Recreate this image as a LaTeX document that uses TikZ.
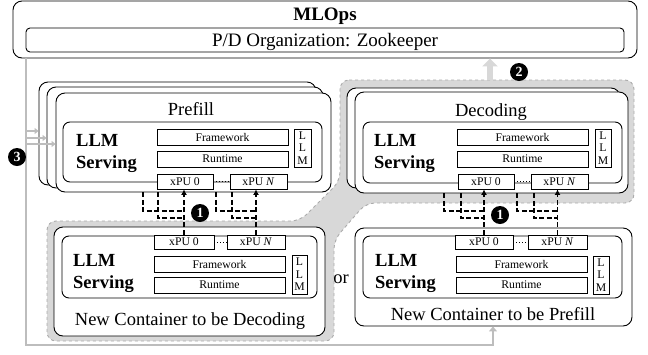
\documentclass[tikz,border=0pt]{standalone}
\usepackage{fontspec}
\setmainfont{Liberation Serif}
\usetikzlibrary{arrows.meta,calc}

\definecolor{hl}{HTML}{D8D8D8}
\definecolor{hlborder}{HTML}{ABABAB}
\definecolor{wire}{HTML}{BDBDBD}

% box node spanning (x1,y1)-(x2,y2): style, x1, y1, x2, y2, name, text
\newcommand\blk[7]{%
  \pgfmathsetmacro\blkw{#4-#2}%
  \pgfmathsetmacro\blkh{#5-#3}%
  \pgfmathsetmacro\blkx{(#2+#4)/2}%
  \pgfmathsetmacro\blky{(#3+#5)/2}%
  \node[#1, minimum width=\blkw pt, minimum height=\blkh pt] (#6) at (\blkx,\blky) {#7};}

\tikzset{
  card/.style={draw, fill=white, rounded corners=9pt, line width=0.9pt, inner sep=0pt},
  panel/.style={draw, fill=white, rounded corners=7pt, line width=0.9pt, inner sep=0pt},
  frame/.style={draw, fill=white, rounded corners=4pt, line width=0.9pt, inner sep=0pt},
  layer/.style={draw, fill=white, line width=0.8pt, inner sep=0pt,
    font=\fontsize{11.7}{12}\selectfont},
  stacked/.style={layer, align=center, font=\fontsize{11.7}{12.5}\selectfont},
  biglabel/.style={font=\fontsize{18.5}{21}\selectfont, inner sep=0pt, anchor=base},
  serving/.style={font=\fontsize{18.5}{22}\selectfont\bfseries, align=left,
    anchor=west, inner sep=0pt},
  badge/.style={circle, fill=black, text=white, inner sep=0pt, minimum size=18pt,
    font=\fontsize{14}{14}\selectfont\bfseries},
  kvline/.style={draw, dash pattern=on 5pt off 2.5pt, line width=1.8pt},
  kvarrow/.style={kvline, -{Latex[length=5.5pt,width=6pt]}},
  wireline/.style={draw=wire, line width=2.6pt},
  wirearrow/.style={wireline, -{Triangle[length=5pt,width=8pt]}},
  branch/.style={draw=wire, line width=1.6pt, -{Triangle[length=4pt,width=6pt]}},
  ellipsis/.style={draw, line width=0.8pt, dash pattern=on 0.8pt off 2.2pt},
}

\begin{document}
\begin{tikzpicture}[x=1pt, y=-1pt]
\useasboundingbox (0,0) rectangle (648,354);

% ---- highlighted region: decoding group and the container joining it
\draw[fill=hl, draw=hlborder, dashed, line width=0.9pt, rounded corners=9pt]
  (340,80) -- (634,80) -- (634,203) -- (366,203) -- (334,240) -- (334,341)
  -- (47,341) -- (47,221) -- (300,221) -- (340,181) -- cycle;

% ---- MLOps control plane
\blk{card}{13}{1}{637}{58}{mlops}{}
\node[font=\fontsize{19}{21}\selectfont\bfseries, inner sep=0pt, anchor=base] (mltitle) at (325,20) {MLOps};
\blk{frame}{26}{28}{624}{52}{zk}{}
\node[biglabel, font=\fontsize{19}{21}\selectfont] (zktext) at (325,46) {P/D Organization: Zookeeper};

% ---- step 2: report to the organizer
\coordinate (up2) at (490,80);
\draw[draw=hl, line width=6pt, -{Triangle[length=8pt,width=15pt]}] (up2) -- (up2 |- mlops.south);
\node[badge] (b2) at (519,72) {2};

% ---- prefill instances (stacked)
\blk{card}{39}{82}{316}{185}{pb3}{}
\blk{card}{47}{87}{323}{188}{pb2}{}
\blk{card}{56}{93}{331}{192}{pf}{}
\node[biglabel] (pflabel) at (191,115) {Prefill};
\blk{panel}{63}{122}{322}{182}{pin}{}
\node[serving] (pserv) at (76,153) {LLM\\Serving};
\blk{layer}{157}{129}{288}{145}{pfw}{Framework}
\blk{layer}{157}{151}{288}{167}{prt}{Runtime}
\blk{stacked}{294}{129}{311}{167}{pllm}{L\\L\\M}
\blk{layer}{157}{174}{213}{189}{px0}{xPU 0}
\blk{layer}{230}{174}{287}{189}{pxn}{xPU \textit{N}}
\draw[ellipsis] (px0.east) -- (pxn.west);

% ---- decoding instances (stacked)
\blk{card}{347}{88}{620}{188}{db}{}
\blk{card}{355}{92}{628}{193}{df}{}
\node[biglabel] (dflabel) at (491,116) {Decoding};
\blk{panel}{363}{122}{622}{183}{din}{}
\node[serving] (dserv) at (374,153) {LLM\\Serving};
\blk{layer}{457}{129}{588}{145}{dfw}{Framework}
\blk{layer}{457}{151}{588}{167}{drt}{Runtime}
\blk{stacked}{595}{129}{611}{167}{dllm}{L\\L\\M}
\blk{layer}{458}{174}{514}{189}{dx0}{xPU 0}
\blk{layer}{531}{174}{588}{189}{dxn}{xPU \textit{N}}
\draw[ellipsis] (dx0.east) -- (dxn.west);

% ---- new container that becomes a decoding instance
\blk{card}{54}{227}{325}{336}{nd}{}
\blk{panel}{62}{236}{317}{298}{ndin}{}
\node[serving] (ndserv) at (73,273) {LLM\\Serving};
\blk{layer}{154}{235}{214}{249}{ndx0}{xPU 0}
\blk{layer}{227}{235}{285}{249}{ndxn}{xPU \textit{N}}
\draw[ellipsis] (ndx0.east) -- (ndxn.west);
\blk{layer}{154}{256}{285}{272}{ndfw}{Framework}
\blk{layer}{154}{277}{285}{293}{ndrt}{Runtime}
\blk{stacked}{292}{255}{307}{294}{ndllm}{L\\L\\M}
\node[biglabel] (ndlabel) at (190,325) {New Container to be Decoding};

\node[font=\fontsize{18.5}{21}\selectfont, inner sep=0pt] (or) at (341,279) {or};

% ---- new container that becomes a prefill instance
\blk{card}{355}{228}{632}{326}{np}{}
\blk{panel}{363}{236}{622}{298}{npin}{}
\node[serving] (npserv) at (375,273) {LLM\\Serving};
\blk{layer}{455}{235}{513}{249}{npx0}{xPU 0}
\blk{layer}{528}{235}{587}{249}{npxn}{xPU \textit{N}}
\draw[ellipsis] (npx0.east) -- (npxn.west);
\blk{layer}{456}{256}{587}{272}{npfw}{Framework}
\blk{layer}{456}{277}{587}{293}{nprt}{Runtime}
\blk{stacked}{593}{256}{609}{294}{npllm}{L\\L\\M}
\node[biglabel] (nplabel) at (493,320) {New Container to be Prefill};

% ---- step 1: KV links between running instances and new containers
\coordinate (ka1) at (143,211); \coordinate (ka2) at (158,218);
\coordinate (kb1) at (216,211); \coordinate (kb2) at (232,218);
\coordinate (kc1) at (444,211); \coordinate (kc2) at (461,218);
\coordinate (kd1) at (517,211); \coordinate (kd2) at (534,218);
\draw[kvline] (ka1 |- pf.south) |- (ka1 -| ndx0.north);
\draw[kvline] (ka2 |- pf.south) |- (ka2 -| ndx0.north);
\draw[kvarrow] (ndx0.north) -- (ndx0.north |- px0.south);
\draw[kvline] (kb1 |- pf.south) |- (kb1 -| ndxn.north);
\draw[kvline] (kb2 |- pf.south) |- (kb2 -| ndxn.north);
\draw[kvarrow] (ndxn.north) -- (ndxn.north |- pxn.south);
\draw[kvline] (kc1 |- df.south) |- (kc1 -| npx0.north);
\draw[kvline] (kc2 |- df.south) |- (kc2 -| npx0.north);
\draw[kvarrow] (npx0.north) -- (npx0.north |- dx0.south);
\draw[kvline] (kd1 |- df.south) |- (kd1 -| npxn.north);
\draw[kvline] (kd2 |- df.south) |- (kd2 -| npxn.north);
\draw[kvarrow] (npxn.north) -- (npxn.north |- dxn.south);
\node[badge] (b1l) at (200,213) {1};
\node[badge] (b1r) at (500,215) {1};

% ---- step 3: organizer dispatches to prefill instances / new container
\coordinate (wc1) at (26,345);
\coordinate (wc2) at (493,345);
\draw[wirearrow] (wc1 |- mlops.south) -- (wc1) -- (wc2) -- (wc2 |- np.south);
\coordinate (w1) at (26,131);
\coordinate (w2) at (26,138);
\coordinate (w3) at (26,144);
\draw[branch] (w1) -- (w1 -| pb3.west);
\draw[branch] (w2) -- (w2 -| pb2.west);
\draw[branch] (w3) -- (w3 -| pf.west);
\node[badge] (b3) at (17,157) {3};
\end{tikzpicture}
\end{document}
